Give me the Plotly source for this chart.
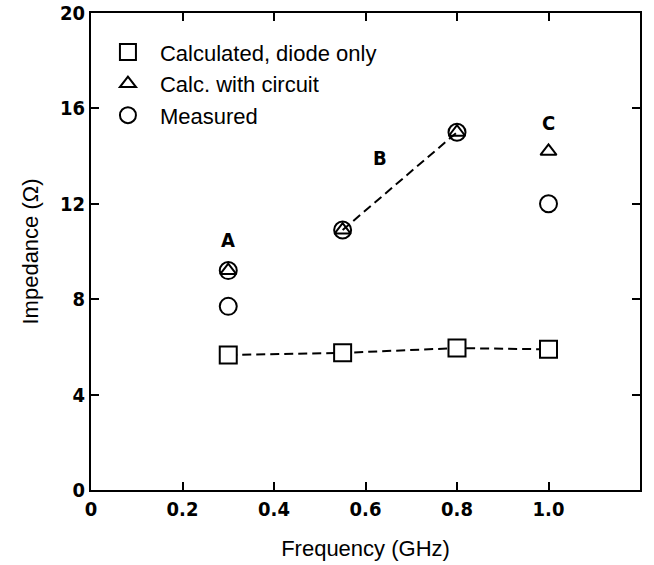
import plotly.graph_objects as go

sq_x = [0.3, 0.55, 0.8, 1.0]
sq_y = [5.66, 5.75, 5.95, 5.9]
tri_x = [0.3, 0.55, 0.8, 1.0]
tri_y = [9.2, 10.9, 15.0, 14.2]
circ_x = [0.3, 0.3, 0.55, 0.8, 1.0]
circ_y = [9.2, 7.7, 10.9, 15.0, 12.0]
lineB_x = [0.55, 0.8]
lineB_y = [10.9, 15.0]
lab_text = ["A", "B", "C"]
lab_x = [0.3, 0.632, 1.0]
lab_y = [10.5, 13.9, 15.4]

COND = "DejaVu Sans Condensed, Liberation Sans Narrow, Arial Narrow"
SANS = "Liberation Sans, Arial, Helvetica"

fig = go.Figure()
# dashed lines
fig.add_trace(go.Scatter(x=sq_x, y=sq_y, mode="lines", showlegend=False,
                         line=dict(color="black", width=2, dash="9px,5px")))
fig.add_trace(go.Scatter(x=lineB_x, y=lineB_y, mode="lines", showlegend=False,
                         line=dict(color="black", width=2, dash="9px,5px")))
# markers
fig.add_trace(go.Scatter(x=sq_x, y=sq_y, mode="markers", name="Calculated, diode only",
                         marker=dict(symbol="square", size=17, color="white",
                                     line=dict(color="black", width=2)), legendrank=1))
fig.add_trace(go.Scatter(x=circ_x, y=circ_y, mode="markers", name="Measured",
                         marker=dict(symbol="circle", size=17, color="rgba(0,0,0,0)",
                                     line=dict(color="black", width=2)), legendrank=3))
fig.add_trace(go.Scatter(x=tri_x, y=tri_y, mode="markers", name="Calc. with circuit",
                         marker=dict(symbol="triangle-up", size=14, color="rgba(0,0,0,0)",
                                     line=dict(color="black", width=2)), legendrank=2))

for t, x, y in zip(lab_text, lab_x, lab_y):
    fig.add_annotation(x=x, y=y, text="<b>" + t + "</b>", showarrow=False,
                       font=dict(size=20, color="black", family=COND))

tick_font = dict(size=20, color="black", family=COND)
axis_common = dict(showline=True, linecolor="black", linewidth=2, mirror="ticks",
                   ticks="inside", ticklen=8, tickwidth=2, tickcolor="black",
                   showgrid=False, zeroline=False, tickfont=tick_font, automargin=False)

xt = [0, 0.2, 0.4, 0.6, 0.8, 1.0, 1.2]
xtl = ["0", "0.2", "0.4", "0.6", "0.8", "1.0", "1.2"]
yt = [0, 4, 8, 12, 16, 20]
ytl = ["0", "4", "8", "12", "16", "20"]

fig.update_xaxes(range=[0, 1.2], tickvals=xt, ticktext=["<b>%s</b>" % s for s in xtl],
                 title=dict(text="Frequency (GHz)", font=dict(size=22, color="black", family=SANS),
                            standoff=21),
                 **axis_common)
fig.update_yaxes(range=[0, 20], tickvals=yt, ticktext=["<b>%s</b>" % s for s in ytl],
                 title=dict(text="Impedance (Ω)", font=dict(size=22, color="black", family=SANS),
                            standoff=15),
                 **axis_common)

fig.update_layout(
    width=654, height=565,
    margin=dict(l=91, r=14, t=13, b=75),
    plot_bgcolor="white", paper_bgcolor="white",
    legend=dict(x=0.009, y=0.962, xanchor="left", yanchor="top",
                bgcolor="rgba(0,0,0,0)", font=dict(size=22, color="black", family=SANS),
                tracegroupgap=0, itemsizing="trace", itemwidth=54),
)

fig.write_html("out.html")
